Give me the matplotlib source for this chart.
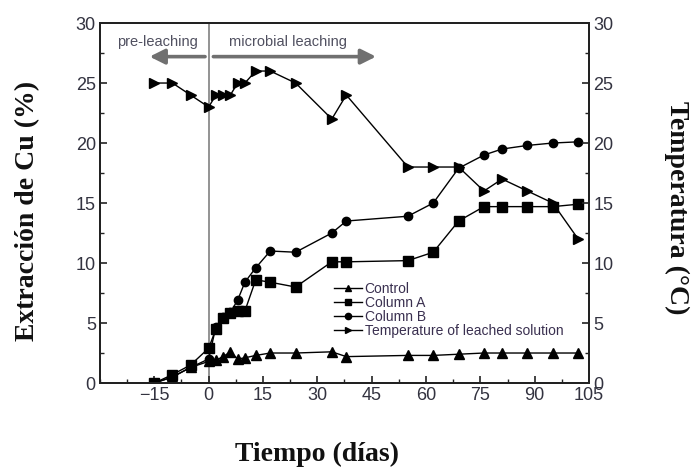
import matplotlib
matplotlib.use("Agg")
import matplotlib.pyplot as plt
from matplotlib.lines import Line2D
from matplotlib.ticker import MultipleLocator

# ---- data ----
days = [-15, -10, -5, 0, 2, 4, 6, 8, 10, 13, 17, 24, 34, 38, 55, 62, 69, 76, 81, 88, 95, 102]
control = [0.0, 0.5, 1.3, 1.8, 1.9, 2.2, 2.6, 2.0, 2.1, 2.3, 2.5, 2.5, 2.6, 2.2, 2.3, 2.3, 2.4, 2.5, 2.5, 2.5, 2.5, 2.5]
column_a = [0.0, 0.7, 1.5, 2.9, 4.5, 5.4, 5.8, 6.0, 6.0, 8.6, 8.4, 8.0, 10.1, 10.1, 10.2, 10.9, 13.5, 14.7, 14.7, 14.7, 14.7, 14.9]
column_b = [0.0, 0.5, 1.3, 2.0, 4.7, 5.5, 5.9, 6.9, 8.4, 9.6, 11.0, 10.9, 12.5, 13.5, 13.9, 15.0, 17.9, 19.0, 19.5, 19.8, 20.0, 20.1]
temperature = [25, 25, 24, 23, 24, 24, 24, 25, 25, 26, 26, 25, 22, 24, 18, 18, 18, 16, 17, 16, 15, 12]
series_labels = ["Control", "Column A", "Column B", "Temperature of leached solution"]
x_ticks = [-15, 0, 15, 30, 45, 60, 75, 90, 105]
y_ticks = [0, 5, 10, 15, 20, 25, 30]

tick_font = "Liberation Sans"
label_font = "Liberation Serif"
tick_color = "#333340"

fig = plt.figure(figsize=(6.91, 4.71), dpi=100)
ax = fig.add_axes([0.1447, 0.1868, 0.7077, 0.7643])
ax2 = ax.twinx()

line_kw = dict(color="black", lw=1.0, mfc="black", mec="black")
h1, = ax.plot(days, control, marker="^", ms=6.5, label=series_labels[0], **line_kw)
h2, = ax.plot(days, column_a, marker="s", ms=6.5, label=series_labels[1], **line_kw)
h3, = ax.plot(days, column_b, marker="o", ms=6, label=series_labels[2], **line_kw)
h4, = ax2.plot(days, temperature, marker=">", ms=6.5, label=series_labels[3], **line_kw)

ax.axvline(0, color="#8a8a8a", lw=1.3, zorder=0)

ax.set_xlim(-30, 105)
ax.set_ylim(0, 30)
ax2.set_ylim(0, 30)

ax.set_xticks(x_ticks)
ax.xaxis.set_minor_locator(MultipleLocator(7.5))
ax.set_yticks(y_ticks)
ax.yaxis.set_minor_locator(MultipleLocator(2.5))
ax2.set_yticks(y_ticks)
ax2.yaxis.set_minor_locator(MultipleLocator(2.5))

for a in (ax, ax2):
    for s in a.spines.values():
        s.set_linewidth(1.4)
        s.set_color("#222222")
    a.tick_params(which="major", direction="in", length=5, width=1.2, color="#222222",
                  labelsize=13, labelcolor=tick_color, pad=3)
    a.tick_params(which="minor", direction="in", length=3, width=1.0, color="#222222")
ax.tick_params(axis="x", which="both", top=False)
ax2.tick_params(axis="x", which="both", top=False, bottom=False)
ax.tick_params(axis="y", which="both", right=False)
for lab in ax.get_xticklabels() + ax.get_yticklabels() + ax2.get_yticklabels():
    lab.set_fontfamily(tick_font)

# axis labels
fig.text(28 / 691, 1 - 211 / 471, "Extracción de Cu (%)", rotation=90, ha="center", va="center",
         fontsize=20, fontweight="bold", family=label_font, color="#111111")
fig.text(677 / 691, 1 - 208 / 471, "Temperatura (°C)", rotation=-90, ha="center", va="center",
         fontsize=20, fontweight="bold", family=label_font, color="#111111")
fig.text(317 / 691, 1 - 454 / 471, "Tiempo (días)", ha="center", va="center",
         fontsize=20, fontweight="bold", family=label_font, color="#111111")

# phase arrows and labels
arrow_kw = dict(arrowstyle="-|>,head_length=0.9,head_width=0.45", color="#707070", lw=2.6,
                shrinkA=0, shrinkB=0)
ax.annotate("", xy=(-16.3, 27.2), xytext=(-1.0, 27.2), arrowprops=arrow_kw)
ax.annotate("", xy=(46.2, 27.2), xytext=(1.3, 27.2), arrowprops=arrow_kw)
ax.text(-14.0, 28.45, "pre-leaching", ha="center", va="center", fontsize=10.5,
        family=tick_font, color="#505060")
ax.text(21.8, 28.45, "microbial leaching", ha="center", va="center", fontsize=10.5,
        family=tick_font, color="#505060")

leg = ax.legend(handles=[h1, h2, h3, h4], loc="upper left", bbox_to_anchor=(34.6, 8.45),
                bbox_transform=ax.transData, frameon=False, fontsize=10, labelspacing=0.0,
                handlelength=2.0, handletextpad=0.2, borderpad=0, borderaxespad=0,
                markerscale=0.75, prop={"family": tick_font, "size": 10})
for t in leg.get_texts():
    t.set_color("#3a3050")
ax2.add_artist(leg) if False else None

fig.savefig("out.png", dpi=100)
